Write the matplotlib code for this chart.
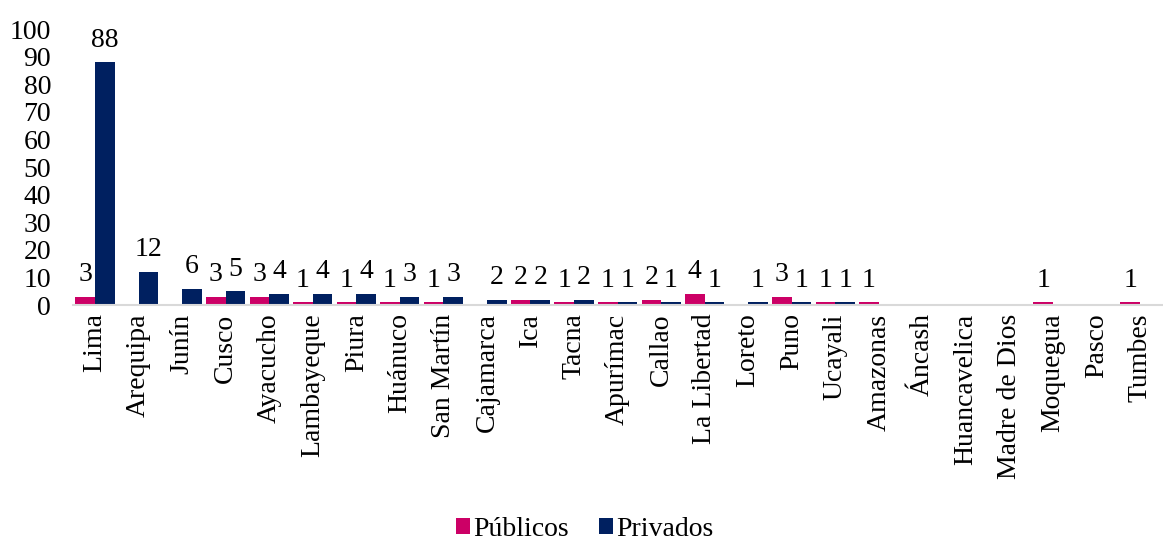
import matplotlib
matplotlib.use("Agg")
import matplotlib.pyplot as plt
import numpy as np

categories = ["Lima", "Arequipa", "Junín", "Cusco", "Ayacucho", "Lambayeque", "Piura",
              "Huánuco", "San Martín", "Cajamarca", "Ica", "Tacna", "Apurímac", "Callao",
              "La Libertad", "Loreto", "Puno", "Ucayali", "Amazonas", "Áncash",
              "Huancavelica", "Madre de Dios", "Moquegua", "Pasco", "Tumbes"]
publicos = [3, 0, 0, 3, 3, 1, 1, 1, 1, 0, 2, 1, 1, 2, 4, 0, 3, 1, 1, 0, 0, 0, 1, 0, 1]
privados = [88, 12, 6, 5, 4, 4, 4, 3, 3, 2, 2, 2, 1, 1, 1, 1, 1, 1, 0, 0, 0, 0, 0, 0, 0]
yticks = [0, 10, 20, 30, 40, 50, 60, 70, 80, 90, 100]

plt.rcParams['font.family'] = ['Liberation Serif', 'DejaVu Serif']
FS = 20
c_pub = "#CC0066"
c_priv = "#002060"

fig = plt.figure(figsize=(11.63, 5.41), dpi=100)
ax = fig.add_axes([0.063, 0.436, 0.936, 0.51])

x = np.arange(len(categories))
w = 0.45
b1 = ax.bar(x - w/2, publicos, w, color=c_pub, label="Públicos")
b2 = ax.bar(x + w/2, privados, w, color=c_priv, label="Privados")

for bars, vals in ((b1, publicos), (b2, privados)):
    for r, v in zip(bars, vals):
        if v > 0:
            ax.annotate(str(v), (r.get_x() + r.get_width()/2, v), xytext=(0, 7),
                        textcoords="offset points", ha="center", va="bottom", fontsize=FS)

ax.set_xlim(-0.5, len(categories) - 0.5)
ax.set_ylim(0, 100)
ax.set_yticks(yticks)
ax.set_yticklabels([str(t) for t in yticks], fontsize=FS)
ax.set_xticks(x)
ax.set_xticklabels(categories, rotation=90, fontsize=FS, ha="center", va="top")
ax.tick_params(axis="both", length=0, pad=6)
ax.tick_params(axis="y", pad=16)
for s in ("top", "right", "left"):
    ax.spines[s].set_visible(False)
ax.spines["bottom"].set_color("#D9D9D9")
ax.spines["bottom"].set_linewidth(1.5)

fig.legend(handles=[b1, b2], loc="center", bbox_to_anchor=(0.503, 0.022), ncol=2,
           frameon=False, fontsize=FS, handlelength=0.5, handleheight=0.5,
           handletextpad=0.12, columnspacing=1.1)

fig.savefig("out.png", dpi=100)
